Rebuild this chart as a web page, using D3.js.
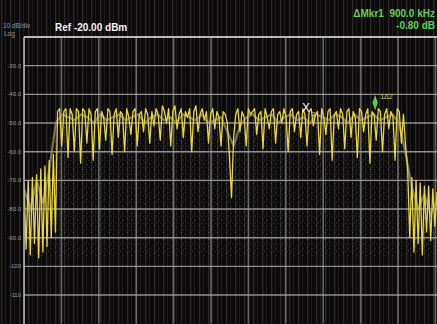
<!DOCTYPE html>
<html><head><meta charset="utf-8">
<script src="https://cdn.jsdelivr.net/npm/d3@7"></script>
<style>html,body{margin:0;padding:0;background:#0c0a0a;overflow:hidden}svg{display:block}</style>
</head><body>
<script>
// ---- data ----
const yTickValues = [-30,-40,-50,-60,-70,-80,-90,-100,-110];
const yTickLabels = ["-30.0","-40.0","-50.0","-60.0","-70.0","-80.0","-90.0","-100","-110"];
const xDivisions = [0,1,2,3,4,5,6,7,8,9,10,11];
const traceYellow = [
 -71,-94,-70,-96,-69,-92,-68,-97,-66,-95,-65,-93,-63,-90,-61,-88,
 -46,-45,-58,-46,-45,-62,-45,-47,-60,-45,-46,-64,-45,-46,-57,-45,-47,-63,-46,-45,-59,
 -46,-48,-56,-45,-46,-61,-47,-45,-55,-46,-47,-60,-45,-48,-54,-46,-45,-58,-47,-46,-53,-45,-47,-57,
 -46,-51,-45,-47,-56,-44,-46,-50,-45,-58,-46,-44,-52,-47,-45,-55,-46,-48,-45,-60,-46,-44,-53,-47,
 -45,-49,-46,-57,-47,-45,-52,-46,-48,-58,-46,-47,-50,-62,-76,-55,-47,-45,-53,-46,-48,-58,-45,-47,
 -46,-45,-54,-47,-46,-59,-45,-48,-52,-46,-45,-57,-47,-46,-50,-45,-48,-60,-46,-45,-53,-47,-46,-55,
 -45,-47,-58,-46,-45,-51,-47,-46,-61,-45,-48,-54,-46,-45,-63,-47,-46,-52,-45,-47,-59,-46,-45,-55,
 -46,-48,-62,-45,-46,-53,-47,-45,-64,-46,-47,-56,-45,-46,-60,-47,-45,-52,-46,-48,-63,-45,-46,-57,-47,
 -58,-66,-90,-69,-95,-70,-92,-71,-96,-72,-88,-72,-91,-73,-86,-74
];
const traceGray = [
 -73,-80,-70,-78,-66,-50,
 -47,-48,-49,-47,-48,-50,-47,-49,-48,-47,
 -49,-48,-47,-50,-48,-47,-49,-48,-50,-47,
 -48,-49,-47,-50,-49,-48,-53,-58,-51,-48,
 -47,-49,-48,-47,-50,-48,-47,-49,-48,-50,
 -47,-48,-49,-47,-48,-50,-47,-49,-48,-47,
 -49,-48,-47,-50,
 -60,-72,-80,-75,-82,-77
];
const noiseFloor = -97;
const markers = [
 {name:"2", index:134.5, db:-44.6, kind:"x"},
 {name:"1\u03942", index:167.5, db:-42.9, kind:"diamond"}
];
const refText = "Ref -20.00 dBm";
const scaleText = "10 dB/div";
const modeText = "Log";
const mkrLine1 = "\u0394Mkr1  900.0 kHz";
const mkrLine2 = "-0.80 dB";

// ---- layout ----
const W = 437, H = 324;
const L = 24, R = 437, T = 37, B = 323.7;
const svg = d3.select("body").append("svg").attr("width", W).attr("height", H);
const defs = svg.append("defs");

const stripes = defs.append("pattern").attr("id","stripes").attr("patternUnits","userSpaceOnUse")
  .attr("width", 9).attr("height", 10);
stripes.append("rect").attr("width",1.3).attr("height",10).attr("x",1).attr("fill","#2a2a2b");
stripes.append("rect").attr("width",1).attr("height",10).attr("x",5).attr("fill","#1d1c1f");

const dots = defs.append("pattern").attr("id","dots").attr("patternUnits","userSpaceOnUse")
  .attr("width", 9).attr("height", 7);
[[1,1,"#7a7a7a"],[5.5,3,"#5a5a5a"],[3,5.5,"#6a6a6a"],[7.5,6,"#4c4c4c"]].forEach(d=>{
  dots.append("rect").attr("x",d[0]).attr("y",d[1]).attr("width",1).attr("height",1).attr("fill",d[2]);
});

defs.append("clipPath").attr("id","plotclip").append("rect")
  .attr("x", L).attr("y", T).attr("width", R - L).attr("height", B - T);

svg.append("rect").attr("width",W).attr("height",H).attr("fill","#0c0a0a");
svg.append("rect").attr("width",W).attr("height",H).attr("fill","url(#stripes)");

const y = d3.scaleLinear().domain([-20,-120]).range([T, B]);
const x = d3.scaleLinear().domain([0, traceYellow.length - 1]).range([L, R]);
const xg = d3.scaleLinear().domain([0, traceGray.length - 1]).range([L, R]);
const xDiv = d3.scaleLinear().domain([0,10]).range([L, 398]);

const plot = svg.append("g").attr("clip-path","url(#plotclip)");

// speckle region (noise) between gray trace and floor
const area = d3.area().x((d,i)=>xg(i)).y0(y(noiseFloor)).y1(d=>y(d)).curve(d3.curveLinear);
plot.append("path").datum(traceGray).attr("d", area).attr("fill","url(#dots)").attr("opacity",0.6);

// grid
plot.selectAll(".vg").data(xDivisions).enter().append("line")
  .attr("x1", d=>xDiv(d)).attr("x2", d=>xDiv(d)).attr("y1", T).attr("y2", B)
  .attr("stroke", "#7e7e80").attr("stroke-width", 1.6).attr("opacity", 0.8);
plot.selectAll(".hg").data(yTickValues).enter().append("line")
  .attr("x1", L).attr("x2", R).attr("y1", d=>y(d)).attr("y2", d=>y(d))
  .attr("stroke", "#a8a8a8").attr("stroke-width", 1.4).attr("opacity", 0.85);

// traces
const lineG = d3.line().x((d,i)=>xg(i)).y(d=>y(d));
plot.append("path").datum(traceGray).attr("d", lineG).attr("fill","none")
  .attr("stroke","#8e8a6c").attr("stroke-width",2.2).attr("opacity",0.8);
const lineY = d3.line().x((d,i)=>x(i)).y(d=>y(d));
plot.append("path").datum(traceYellow).attr("d", lineY).attr("fill","none")
  .attr("stroke","#e8d63c").attr("stroke-width",1.3).attr("stroke-linejoin","round");

// borders
svg.append("line").attr("x1", L).attr("x2", R).attr("y1", T).attr("y2", T)
  .attr("stroke","#b8b8b8").attr("stroke-width",2);
svg.append("line").attr("x1", L).attr("x2", L).attr("y1", T).attr("y2", H)
  .attr("stroke","#b0b0b0").attr("stroke-width",1.6);

// y axis labels
const font = "'Liberation Sans', Arial, sans-serif";
svg.selectAll(".yl").data(yTickValues).enter().append("text")
  .attr("x", 21).attr("y", d=>y(d)).attr("dy","0.35em").attr("text-anchor","end")
  .attr("font-family", font).attr("font-size", 6).attr("fill","#9c9c9c")
  .text((d,i)=>yTickLabels[i]);

// header
svg.append("text").attr("x",3).attr("y",28).attr("font-family",font).attr("font-size",6.5)
  .attr("fill","#9a9a9a").text(scaleText);
svg.append("text").attr("x",4).attr("y",36).attr("font-family",font).attr("font-size",6.5)
  .attr("fill","#9a9a9a").text(modeText);
svg.append("text").attr("x",55).attr("y",31).attr("font-family",font).attr("font-size",10)
  .attr("font-weight","bold").attr("fill","#f2f2f2").text(refText);
svg.append("text").attr("x",435).attr("y",17).attr("text-anchor","end").attr("font-family",font)
  .attr("font-size",10).attr("font-weight","bold").attr("fill","#62cf55").attr("xml:space","preserve").text(mkrLine1);
svg.append("text").attr("x",435).attr("y",28.5).attr("text-anchor","end").attr("font-family",font)
  .attr("font-size",10).attr("font-weight","bold").attr("fill","#62cf55").text(mkrLine2);

// markers
markers.forEach(m=>{
  const mx = x(m.index), my = y(m.db);
  if (m.kind === "x") {
    svg.append("text").attr("x", mx).attr("y", my + 4).attr("text-anchor","middle")
      .attr("font-family",font).attr("font-size",12).attr("fill","#f4f4f4").text("X");
    svg.append("text").attr("x", mx + 6).attr("y", my + 8).attr("font-family",font)
      .attr("font-size",6).attr("fill","#e0e0e0").text(m.name);
  } else {
    svg.append("path").attr("d", d3.symbol().type(d3.symbolDiamond).size(40)())
      .attr("transform", `translate(${mx},${my}) scale(0.8,1.3)`).attr("fill","#4fcf5a");
    svg.append("text").attr("x", mx + 5).attr("y", my - 4).attr("font-family",font)
      .attr("font-size",7).attr("fill","#cdd24a").text(m.name);
  }
});
</script>
</body></html>
